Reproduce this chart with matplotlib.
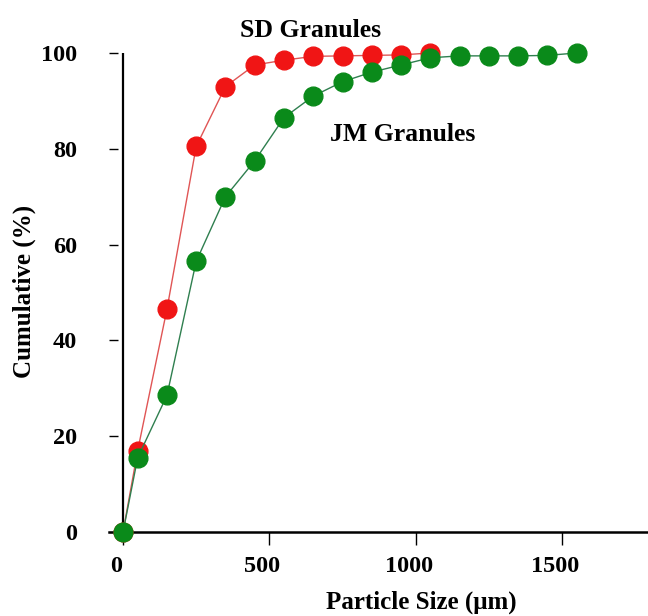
import matplotlib
matplotlib.use("Agg")
import matplotlib.pyplot as plt
from matplotlib.transforms import ScaledTranslation

# Particle size (um) and cumulative (%)
sd_size = [0, 50, 150, 250, 350, 450, 550, 650, 750, 850, 950, 1050]
sd_cum = [0, 17, 46.5, 80.5, 93, 97.5, 98.5, 99.3, 99.4, 99.5, 99.6, 100]

jm_size = [0, 50, 150, 250, 350, 450, 550, 650, 750, 850, 950, 1050,
           1150, 1250, 1350, 1450, 1550]
jm_cum = [0, 15.5, 28.5, 56.5, 70, 77.5, 86.5, 91, 94, 96, 97.5, 99,
          99.4, 99.4, 99.4, 99.5, 100]

x_ticks = [0, 500, 1000, 1500]
y_ticks = [0, 20, 40, 60, 80, 100]

plt.rcParams["font.family"] = ["Liberation Serif", "DejaVu Serif"]
plt.rcParams["font.weight"] = "bold"

fig = plt.figure(figsize=(6.48, 6.16), dpi=100)
ax = fig.add_axes([109 / 648, 84 / 616, 539 / 648, 479 / 616])

ax.plot(sd_size, sd_cum, "-", color="#e05555", lw=1,
        marker="o", ms=13.5, mfc="#f01515", mec="#f01515", clip_on=False, zorder=3)
ax.plot(jm_size, jm_cum, "-", color="#2f7f4f", lw=1,
        marker="o", ms=13.5, mfc="#0a8a1a", mec="#0a8a1a", clip_on=False, zorder=4)

ax.set_xlim(-48, 1794)
ax.set_ylim(0, 100)

# y axis line sits at x = 0, ticks stay at the axes edge
ax.axvline(0, color="black", lw=1.6, zorder=2)
for side in ["top", "right", "left"]:
    ax.spines[side].set_visible(False)
ax.spines["bottom"].set_linewidth(1.8)

ax.set_xticks(x_ticks)
ax.set_yticks(y_ticks)
ax.tick_params(axis="x", direction="out", length=9, width=1, pad=8, labelsize=17.5)
ax.tick_params(axis="y", direction="in", length=6.5, width=1, pad=23, labelsize=17.5)

# tick labels in the reference sit a little left of their ticks
shift = ScaledTranslation(-0.07, 0, fig.dpi_scale_trans)
for lab in ax.get_xticklabels():
    lab.set_transform(lab.get_transform() + shift)
    lab.set_fontweight("bold")
for lab in ax.get_yticklabels():
    lab.set_fontweight("bold")

ax.set_xlabel("Particle Size (\u03bcm)", fontsize=18, fontweight="bold", va="center")
ax.xaxis.set_label_coords(0.579, -0.146)
ax.set_ylabel("Cumulative (%)", fontsize=18, fontweight="bold", va="center")
ax.yaxis.set_label_coords(-0.157, 0.503)

ax.text(640, 104.6, "SD Granules", fontsize=18.5, fontweight="bold",
        ha="center", va="center")
ax.text(957, 83, "JM Granules", fontsize=18.5, fontweight="bold",
        ha="center", va="center")

fig.savefig("out.png", dpi=100)
